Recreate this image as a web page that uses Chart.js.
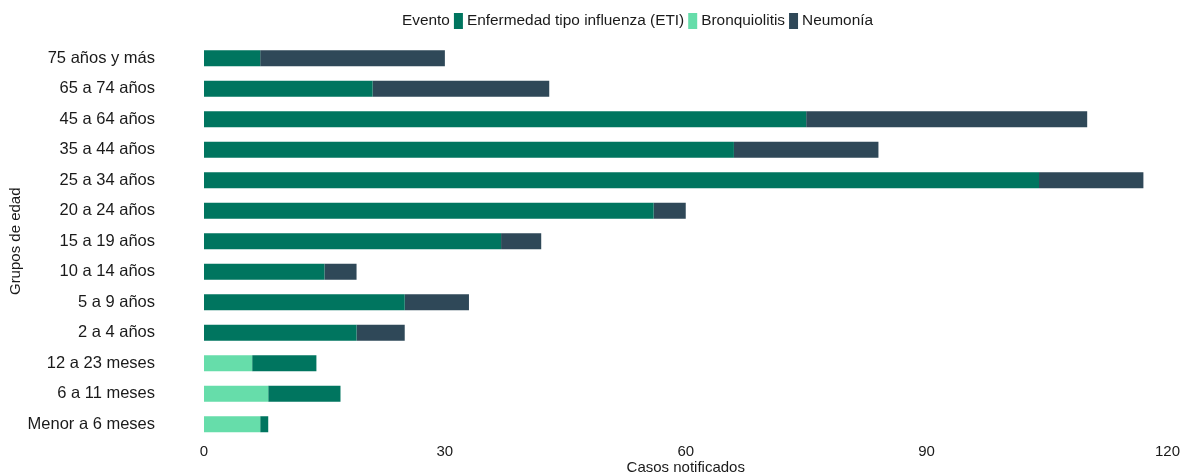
<!DOCTYPE html>
<html>
<head>
<meta charset="utf-8">
<script src="https://cdn.jsdelivr.net/npm/chart.js@4"></script>
<style>
  html, body { margin: 0; padding: 0; background: #fff; overflow: hidden; }
</style>
</head>
<body>
<canvas id="chart" width="1183" height="475"></canvas>
<script>
// Datos
const grupos = ['75 años y más', '65 a 74 años', '45 a 64 años', '35 a 44 años', '25 a 34 años',
    '20 a 24 años', '15 a 19 años', '10 a 14 años', '5 a 9 años', '2 a 4 años',
    '12 a 23 meses', '6 a 11 meses', 'Menor a 6 meses'];
const bronquiolitis = [0, 0, 0, 0, 0, 0, 0, 0, 0, 0, 6, 8, 7];
const eti = [7, 21, 75, 66, 104, 56, 37, 15, 25, 19, 8, 9, 1];
const neumonia = [23, 22, 35, 18, 13, 4, 5, 4, 8, 6, 0, 0, 0];
const xTicks = [0, 30, 60, 90, 120];

const colores = {
    eti: '#00755F',
    bronq: '#66DDAA',
    neum: '#2F4858'
};

const fuente = '"Liberation Sans", Arial, sans-serif';
const texto = '#1a1a1a';

// Leyenda en una línea con el título "Evento" delante
const leyendaPlugin = {
    id: 'leyendaEvento',
    afterDraw(chart) {
        const ctx = chart.ctx;
        const items = [
            { texto: 'Enfermedad tipo influenza (ETI)', color: colores.eti },
            { texto: 'Bronquiolitis', color: colores.bronq },
            { texto: 'Neumonía', color: colores.neum }
        ];
        ctx.save();
        ctx.font = '15.4px ' + fuente;
        ctx.fillStyle = texto;
        ctx.textBaseline = 'middle';
        let x = 402;
        const y = 21;
        ctx.fillText('Evento', x, y);
        x += ctx.measureText('Evento').width + 4;
        items.forEach(it => {
            ctx.fillStyle = it.color;
            ctx.fillRect(x, y - 8, 9, 16);
            x += 13;
            ctx.fillStyle = texto;
            ctx.fillText(it.texto, x, y);
            x += ctx.measureText(it.texto).width + 4;
        });
        ctx.restore();
    }
};

new Chart(document.getElementById('chart'), {
    type: 'bar',
    data: {
        labels: grupos,
        datasets: [
            { label: 'Bronquiolitis', data: bronquiolitis, backgroundColor: colores.bronq },
            { label: 'Enfermedad tipo influenza (ETI)', data: eti, backgroundColor: colores.eti },
            { label: 'Neumonía', data: neumonia, backgroundColor: colores.neum }
        ]
    },
    options: {
        indexAxis: 'y',
        responsive: false,
        animation: false,
        categoryPercentage: 1,
        barPercentage: 0.53,
        layout: { padding: { top: 43, right: 0, bottom: 0, left: 4 } },
        plugins: {
            legend: { display: false },
            tooltip: { enabled: false }
        },
        scales: {
            x: {
                stacked: true,
                min: 0,
                max: 120,
                grid: { display: false, drawTicks: false },
                border: { display: false },
                afterBuildTicks: axis => { axis.ticks = xTicks.map(v => ({ value: v })); },
                afterFit: axis => { axis.height = 35.5; },
                ticks: {
                    color: texto,
                    font: { family: fuente, size: 15 },
                    padding: 3,
                    maxRotation: 0
                },
                title: {
                    display: true,
                    text: 'Casos notificados',
                    color: texto,
                    font: { family: fuente, size: 15 },
                    padding: { top: 0, bottom: -2 }
                }
            },
            y: {
                stacked: true,
                grid: { display: false, drawTicks: false },
                border: { display: false },
                afterFit: axis => {
                    axis.width = 200;
                    axis.paddingTop = 0;
                    axis.paddingBottom = 0;
                },
                ticks: {
                    color: texto,
                    font: { family: fuente, size: 16.5 },
                    padding: 49,
                    autoSkip: false
                },
                title: {
                    display: true,
                    text: 'Grupos de edad',
                    color: texto,
                    font: { family: fuente, size: 15 },
                    padding: { top: 3, bottom: 0 }
                }
            }
        }
    },
    plugins: [leyendaPlugin]
});
</script>
</body>
</html>
